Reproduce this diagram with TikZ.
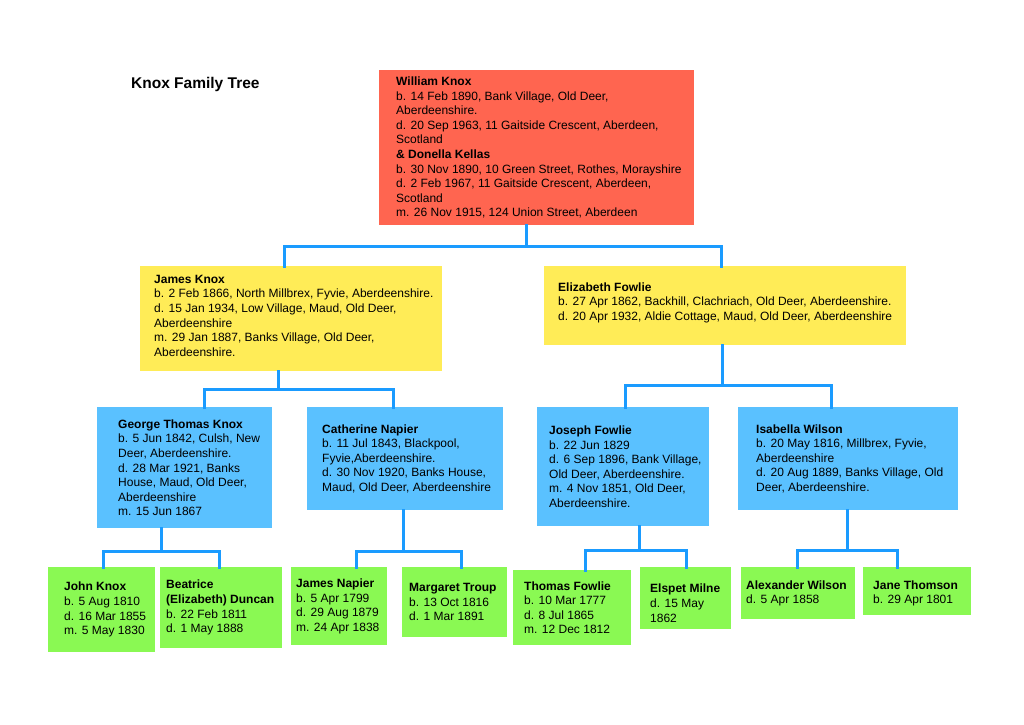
\documentclass[tikz,border=0pt]{standalone}
\usepackage{fontspec}
\setmainfont{Liberation Sans}
\definecolor{redbox}{HTML}{FF6550}
\definecolor{yellowbox}{HTML}{FFEC57}
\definecolor{bluebox}{HTML}{5AC1FF}
\definecolor{greenbox}{HTML}{8AF953}
\definecolor{linkblue}{HTML}{1A9BFF}
\tikzset{
  boxshape/.style={draw=none, inner sep=0pt, anchor=north west},
  boxtext/.style={inner sep=0pt, align=left, anchor=west, font=\fontsize{12}{14.6}\selectfont},
  conn/.style={draw=linkblue, line width=3pt, line cap=rect}
}
\newcommand\fambox[9][0]{%
  \node[boxshape, fill=#8, minimum width=#5pt, minimum height=#6pt] (#2) at (#3,#4) {};
  \node[boxtext] (#2-t) at ([xshift=#7pt, yshift=#1pt]#2.west) {#9};
}
\begin{document}
\begin{tikzpicture}[x=1pt,y=-1pt]
\fill[white] (0,0) rectangle (1024,724);
\useasboundingbox (0,0) rectangle (1024,724);

\node[anchor=west, inner sep=0pt, font=\bfseries\fontsize{15.5}{18}\selectfont] (title) at (131,84) {Knox Family Tree};

% generation 1
\fambox{red}{379}{70}{315}{155}{17}{redbox}{\textbf{William Knox}\\
b. 14 Feb 1890, Bank Village, Old Deer,\\
Aberdeenshire.\\
d. 20 Sep 1963, 11 Gaitside Crescent, Aberdeen,\\
Scotland\\
\textbf{\& Donella Kellas}\\
b. 30 Nov 1890, 10 Green Street, Rothes, Morayshire\\
d. 2 Feb 1967, 11 Gaitside Crescent, Aberdeen,\\
Scotland\\
m. 26 Nov 1915, 124 Union Street, Aberdeen}

% generation 2
\fambox[3]{yl}{140}{266}{302}{105}{14}{yellowbox}{\textbf{James Knox}\\
b. 2 Feb 1866, North Millbrex, Fyvie, Aberdeenshire.\\
d. 15 Jan 1934, Low Village, Maud, Old Deer,\\
Aberdeenshire\\
m. 29 Jan 1887, Banks Village, Old Deer,\\
Aberdeenshire.}
\fambox[3]{yr}{544}{266}{362}{79}{14}{yellowbox}{\textbf{Elizabeth Fowlie}\\
b. 27 Apr 1862, Backhill, Clachriach, Old Deer, Aberdeenshire.\\
d. 20 Apr 1932, Aldie Cottage, Maud, Old Deer, Aberdeenshire}

% generation 3
\fambox{george}{97}{407}{175}{121}{21}{bluebox}{\textbf{George Thomas Knox}\\
b. 5 Jun 1842, Culsh, New\\
Deer, Aberdeenshire.\\
d. 28 Mar 1921, Banks\\
House, Maud, Old Deer,\\
Aberdeenshire\\
m. 15 Jun 1867}
\fambox{cath}{307}{407}{196}{103}{15}{bluebox}{\textbf{Catherine Napier}\\
b. 11 Jul 1843, Blackpool,\\
Fyvie,Aberdeenshire.\\
d. 30 Nov 1920, Banks House,\\
Maud, Old Deer, Aberdeenshire}
\fambox{joseph}{537}{407}{172}{119}{12}{bluebox}{\textbf{Joseph Fowlie}\\
b. 22 Jun 1829\\
d. 6 Sep 1896, Bank Village,\\
Old Deer, Aberdeenshire.\\
m. 4 Nov 1851, Old Deer,\\
Aberdeenshire.}
\fambox{isab}{738}{407}{220}{103}{18}{bluebox}{\textbf{Isabella Wilson}\\
b. 20 May 1816, Millbrex, Fyvie,\\
Aberdeenshire\\
d. 20 Aug 1889, Banks Village, Old\\
Deer, Aberdeenshire.}

% generation 4
\fambox{john}{48}{567}{107}{85}{16}{greenbox}{\textbf{John Knox}\\
b. 5 Aug 1810\\
d. 16 Mar 1855\\
m. 5 May 1830}
\fambox{beat}{160}{567}{122}{81}{6}{greenbox}{\textbf{Beatrice}\\
\textbf{(Elizabeth) Duncan}\\
b. 22 Feb 1811\\
d. 1 May 1888}
\fambox{jnap}{291}{567}{96}{78}{5}{greenbox}{\textbf{James Napier}\\
b. 5 Apr 1799\\
d. 29 Aug 1879\\
m. 24 Apr 1838}
\fambox{marg}{402}{567}{105}{70}{7}{greenbox}{\textbf{Margaret Troup}\\
b. 13 Oct 1816\\
d. 1 Mar 1891}
\fambox{thom}{513}{570}{118}{75}{11}{greenbox}{\textbf{Thomas Fowlie}\\
b. 10 Mar 1777\\
d. 8 Jul 1865\\
m. 12 Dec 1812}
\fambox[-5]{elsp}{640}{567}{91}{62}{10}{greenbox}{\textbf{Elspet Milne}\\
d. 15 May\\
1862}
\fambox{alex}{741}{567}{114}{52}{5}{greenbox}{\textbf{Alexander Wilson}\\
d. 5 Apr 1858}
\fambox[-2]{jane}{863}{567}{108}{48}{10}{greenbox}{\textbf{Jane Thomson}\\
b. 29 Apr 1801}

% connectors
\coordinate (j1) at ([xshift=147pt, yshift=-21pt]red.south west);
\draw[conn] ([xshift=147pt]red.south west) -- (j1);
\draw[conn] ([xshift=144pt]yl.north west) |- (j1) -| ([xshift=177pt]yr.north west);

\coordinate (j2) at ([xshift=138pt, yshift=-18pt]yl.south west);
\draw[conn] ([xshift=138pt]yl.south west) -- (j2);
\draw[conn] ([xshift=107pt]george.north west) |- (j2) -| ([xshift=86pt]cath.north west);

\coordinate (j3) at ([xshift=178pt, yshift=-40pt]yr.south west);
\draw[conn] ([xshift=178pt]yr.south west) -- (j3);
\draw[conn] ([xshift=88pt]joseph.north west) |- (j3) -| ([xshift=93pt]isab.north west);

\coordinate (j4) at ([xshift=64pt, yshift=-23pt]george.south west);
\draw[conn] ([xshift=64pt]george.south west) -- (j4);
\draw[conn] ([xshift=55pt]john.north west) |- (j4) -| ([xshift=59pt]beat.north west);

\coordinate (j5) at ([xshift=96pt, yshift=-41pt]cath.south west);
\draw[conn] ([xshift=96pt]cath.south west) -- (j5);
\draw[conn] ([xshift=65pt]jnap.north west) |- (j5) -| ([xshift=59pt]marg.north west);

\coordinate (j6) at ([xshift=102pt, yshift=-24pt]joseph.south west);
\draw[conn] ([xshift=102pt]joseph.south west) -- (j6);
\draw[conn] ([xshift=72pt]thom.north west) |- (j6) -| ([xshift=46pt]elsp.north west);

\coordinate (j7) at ([xshift=109pt, yshift=-40pt]isab.south west);
\draw[conn] ([xshift=109pt]isab.south west) -- (j7);
\draw[conn] ([xshift=56pt]alex.north west) |- (j7) -| ([xshift=34pt]jane.north west);
\end{tikzpicture}
\end{document}
